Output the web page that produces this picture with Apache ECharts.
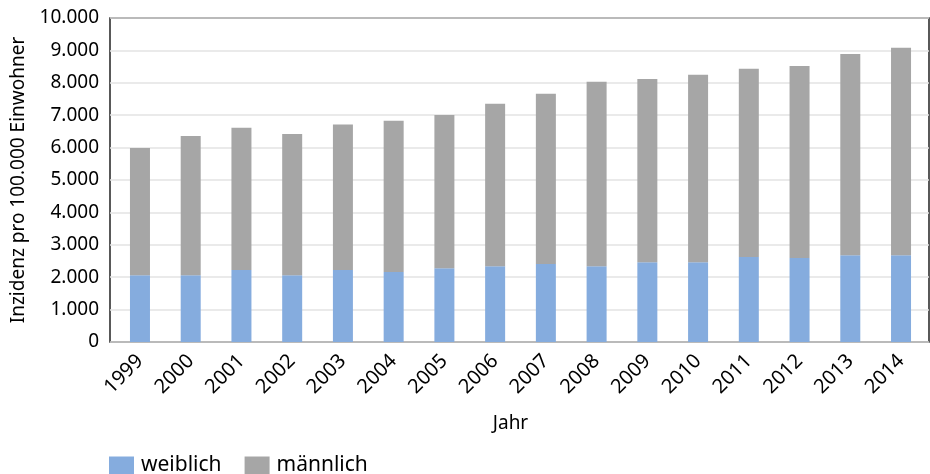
<!DOCTYPE html>
<html>
<head>
<meta charset="utf-8">
<script src="https://cdn.jsdelivr.net/npm/echarts@6/dist/echarts.min.js"></script>
<style>html,body{margin:0;padding:0;background:#fff}#c{width:930px;height:474px}</style>
</head>
<body>
<div id="c"></div>
<script>
const years = ['1999','2000','2001','2002','2003','2004','2005','2006','2007','2008','2009','2010','2011','2012','2013','2014'];
const weiblich = [2060,2060,2220,2060,2220,2160,2280,2340,2410,2340,2460,2460,2620,2590,2680,2680];
const totals = [5990,6360,6610,6420,6710,6825,7010,7350,7660,8030,8120,8245,8430,8520,8890,9080];
const maennlich = totals.map((t,i)=>t-weiblich[i]);
const yTicks = [0,1000,2000,3000,4000,5000,6000,7000,8000,9000,10000];

const font = 'Noto Sans';
const chart = echarts.init(document.getElementById('c'));
chart.setOption({
  animation:false,
  textStyle:{fontFamily:font},
  grid:[
    {left:110,right:1,top:18,bottom:132,show:true,borderColor:'#000',borderWidth:1.3},
    {left:114.6,right:3.6,top:18,bottom:132}
  ],
  legend:{left:109,top:455,padding:0,itemWidth:25,itemHeight:18,itemGap:23,icon:'rect',
    textStyle:{fontFamily:font,fontSize:21,color:'#000',lineHeight:20,padding:[0,0,0,2]},data:['weiblich','männlich']},
  xAxis:[
    {type:'category',gridIndex:0,data:years,show:false},
    {type:'category',gridIndex:1,data:years,
    axisLine:{show:false},axisTick:{show:false},
    axisLabel:{rotate:45,fontSize:20,color:'#000',fontFamily:font,margin:16},
    name:'Jahr',nameLocation:'middle',nameGap:72,
    nameTextStyle:{fontSize:19,color:'#000',fontFamily:font,padding:[0,20,0,0]}}
  ],
  yAxis:[
    {type:'value',gridIndex:0,min:0,max:10000,interval:1000,
    axisLine:{show:false},axisTick:{show:false},
    splitLine:{lineStyle:{color:'#e3e3e3',width:1.5}},
    axisLabel:{fontSize:19,color:'#000',fontFamily:font,margin:11,
      formatter:v=>yTicks.includes(v)?v.toLocaleString('de-DE'):''},
    name:'Inzidenz pro 100.000 Einwohner',nameLocation:'middle',nameGap:82,
    nameTextStyle:{fontSize:19,color:'#000',fontFamily:font}},
    {type:'value',gridIndex:1,min:0,max:10000,interval:1000,show:false,splitLine:{show:false}}
  ],
  series:[
    {name:'weiblich',type:'bar',stack:'a',xAxisIndex:1,yAxisIndex:1,data:weiblich,barWidth:20,itemStyle:{color:'#85ACDE'}},
    {name:'männlich',type:'bar',stack:'a',xAxisIndex:1,yAxisIndex:1,data:maennlich,barWidth:20,itemStyle:{color:'#A6A6A6'}}
  ]
});
</script>
</body>
</html>
